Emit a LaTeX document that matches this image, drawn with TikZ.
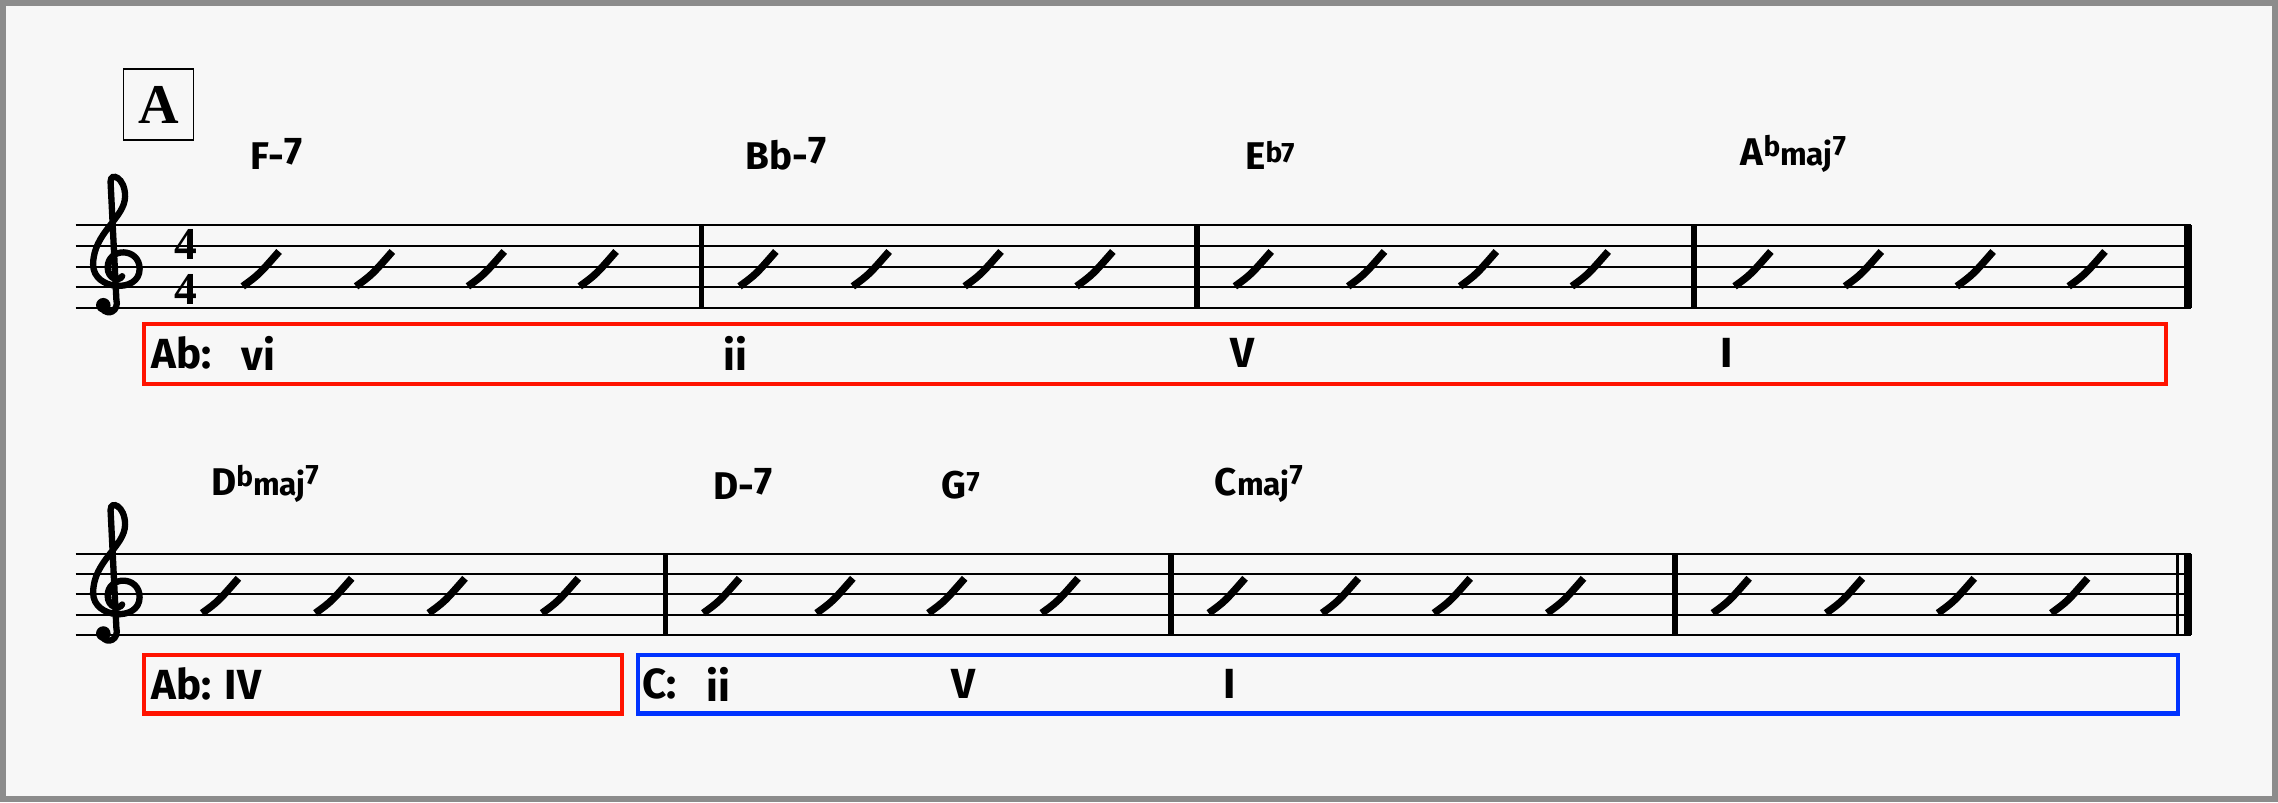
\documentclass[tikz,border=0pt]{standalone}
\usepackage{fontspec}
\newfontfamily\chordfont{Fira Sans}
\newfontfamily\rehfont{Liberation Serif}
\begin{document}
\begin{tikzpicture}[x=0.0291cm,y=-0.0291cm]
	\tikzset{
		staffline/.style={line width=1.1pt},
		barline/.style={line width=3pt},
		slashmark/.style={line width=4.2pt},
		chord/.style={font=\chordfont\bfseries\fontsize{22}{22}\selectfont, anchor=south west, inner sep=0pt},
		degree/.style={font=\chordfont\bfseries\fontsize{24}{24}\selectfont, anchor=west, inner sep=0pt},
		redbox/.style={draw=red!85!orange, line width=2.4pt},
		bluebox/.style={draw=blue!80!cyan, line width=2.4pt},
		trebleclef/.pic={
			\draw[line width=3.6pt, line cap=round] (-10,42) .. controls (-6,48) and (2,44) .. (0,36) -- (-4,-45)
				.. controls (-4,-52) and (6,-48) .. (6,-35) .. controls (6,-20) and (-16,-10) .. (-16,12)
				.. controls (-16,30) and (16,32) .. (16,15) .. controls (16,0) and (-6,0) .. (-6,14)
				.. controls (-6,22) and (2,24) .. (4,20);
			\fill (-9,40) circle (5);
		}
	}
	\fill[gray!6] (0,0) rectangle (1568,552);
	\draw[gray!90, line width=3.5pt] (2,2) rectangle (1566,550);
	\useasboundingbox (0,0) rectangle (1568,552);

	% rehearsal mark
	\node[draw, line width=1pt, minimum width=1.4cm, minimum height=1.42cm, inner sep=0pt, font=\rehfont\bfseries\fontsize{32}{32}\selectfont] (reh) at (109,72) {A};

	% staff 1
	\foreach \y in {155,169.25,183.5,197.75,212}
		\draw[staffline] (52,\y) -- (1508,\y);
	\foreach \x in {483,824,1166}
		\draw[barline] (\x,155) -- (\x,212);
	\draw[line width=4.5pt] (1506,155) -- (1506,212);
	\pic (clefA) at (80,170) {trebleclef};
	\node[font=\rehfont\bfseries\fontsize{26}{26}\selectfont, inner sep=0pt] (tsA1) at (128,168) {4};
	\node[font=\rehfont\bfseries\fontsize{26}{26}\selectfont, inner sep=0pt] (tsA2) at (128,199) {4};
	\foreach \x in {180,258,335,412,522,600,677,754,863,941,1018,1095,1207,1283,1360,1437}
		\draw[slashmark] (\x-13,197) .. controls (\x-2,189) .. (\x+12,173);

	% chords 1
	\node[chord] (c1) at (172,117) {F-\raisebox{3pt}{7}};
	\node[chord] (c2) at (513,117) {Bb-\raisebox{3pt}{7}};
	\node[chord] (c3) at (857,117) {E\raisebox{4pt}{\fontsize{16}{16}\selectfont b7}};
	\node[chord] (c4) at (1198,119) {A\raisebox{5pt}{\fontsize{16}{16}\selectfont b}{\fontsize{18}{18}\selectfont maj}\raisebox{6pt}{\fontsize{16}{16}\selectfont 7}};

	% analysis 1
	\draw[redbox] (99,223) rectangle (1491,264);
	\node[degree] (d1) at (104,243) {Ab:};
	\node[degree] (d2) at (166,243) {vi};
	\node[degree] (d3) at (498,243) {ii};
	\node[degree] (d4) at (847,243) {V};
	\node[degree] (d5) at (1184,243) {I};

	% staff 2
	\foreach \y in {381,395,409,423,437}
		\draw[staffline] (52,\y) -- (1508,\y);
	\foreach \x in {458,806,1153}
		\draw[barline] (\x,381) -- (\x,437);
	\draw[line width=2pt] (1499,381) -- (1499,437);
	\draw[line width=4.5pt] (1506,381) -- (1506,437);
	\pic (clefB) at (80,396) {trebleclef};
	\foreach \x in {152,230,308,386,497,575,652,730,845,923,1000,1078,1192,1270,1347,1425}
		\draw[slashmark] (\x-13,422) .. controls (\x-2,414) .. (\x+12,398);

	% chords 2
	\node[chord] (c5) at (145,346) {D\raisebox{5pt}{\fontsize{16}{16}\selectfont b}{\fontsize{18}{18}\selectfont maj}\raisebox{6pt}{\fontsize{16}{16}\selectfont 7}};
	\node[chord] (c6) at (491,344) {D-\raisebox{3pt}{7}};
	\node[chord] (c7) at (648,344) {G\raisebox{4pt}{\fontsize{16}{16}\selectfont 7}};
	\node[chord] (c8) at (836,346) {C{\fontsize{18}{18}\selectfont maj}\raisebox{6pt}{\fontsize{16}{16}\selectfont 7}};

	% analysis 2
	\draw[redbox] (99,451) rectangle (428,491);
	\draw[bluebox] (439,451) rectangle (1499,491);
	\node[degree] (d6) at (104,471) {Ab: IV};
	\node[degree] (d7) at (442,471) {C:};
	\node[degree] (d8) at (486,471) {ii};
	\node[degree] (d9) at (655,471) {V};
	\node[degree] (d10) at (842,471) {I};
\end{tikzpicture}
\end{document}
